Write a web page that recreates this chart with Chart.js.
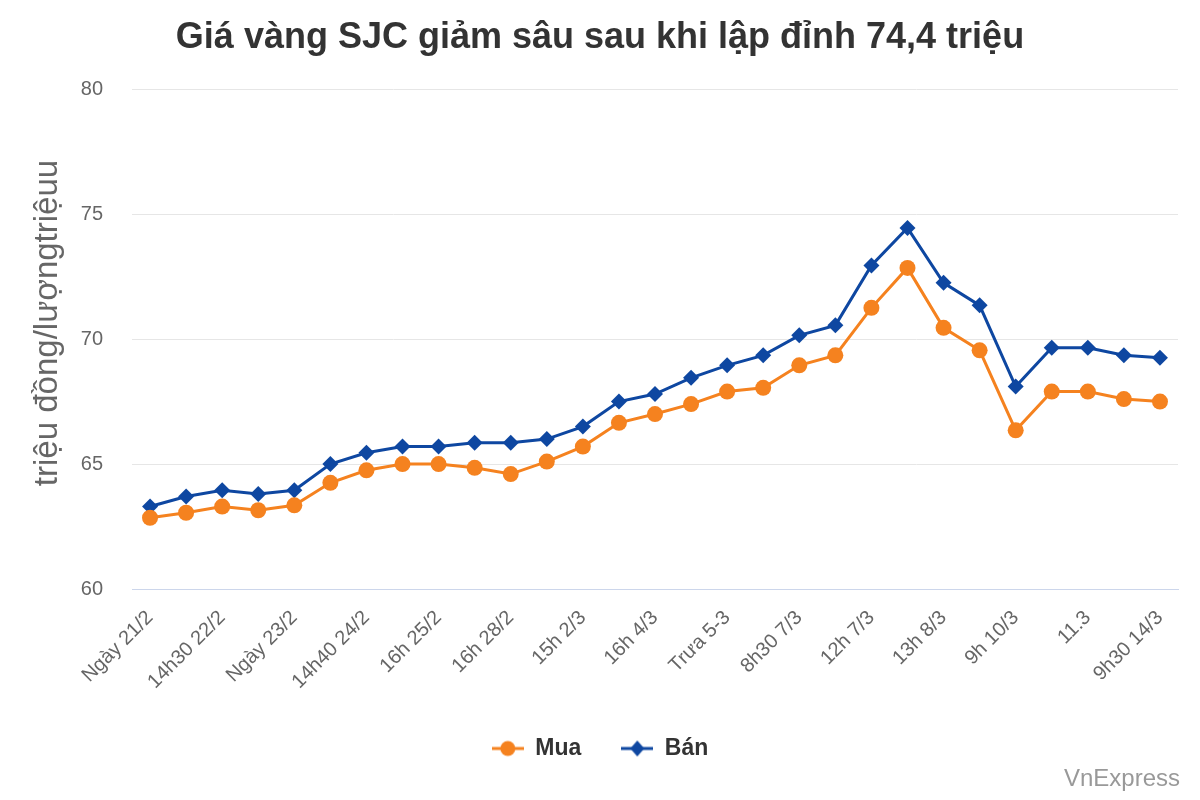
<!DOCTYPE html>
<html>
<head>
<meta charset="utf-8">
<script src="https://cdn.jsdelivr.net/npm/chart.js@4/dist/chart.umd.min.js"></script>
<style>
  html, body { margin: 0; padding: 0; background: #fff; }
  #wrap { position: relative; width: 1200px; height: 800px; }
  #credit { position: absolute; right: 20px; top: 764px; font: 24px "Liberation Sans", Arial, sans-serif; color: #999; }
</style>
</head>
<body>
<div id="wrap">
  <canvas id="c" width="1200" height="800"></canvas>
  <div id="credit">VnExpress</div>
</div>
<script>
const titleText = "Giá vàng SJC giảm sâu sau khi lập đỉnh 74,4 triệu";
const yAxisTitle = "triệu đồng/lượngtriệuu";
const categories = [
  "Ngày 21/2", "Sáng 22/2", "14h30 22/2", "Sáng 23/2", "Ngày 23/2", "Sáng 24/2",
  "14h40 24/2", "Sáng 25/2", "16h 25/2", "Sáng 28/2", "16h 28/2", "Sáng 2/3",
  "15h 2/3", "Sáng 4/3", "16h 4/3", "Sáng 5/3", "Trưa 5-3", "Sáng 7/3",
  "8h30 7/3", "10h 7/3", "12h 7/3", "Sáng 8/3", "13h 8/3", "Sáng 9/3",
  "9h 10/3", "Sáng 11/3", "11.3", "Sáng 14/3", "9h30 14/3"
];
const muaValues = [
  62.85, 63.05, 63.3, 63.15, 63.35, 64.25, 64.75, 65.0, 65.0, 64.85,
  64.6, 65.1, 65.7, 66.65, 67.0, 67.4, 67.9, 68.05, 68.95, 69.35,
  71.25, 72.85, 70.45, 69.55, 66.35, 67.9, 67.9, 67.6, 67.5
];
const banValues = [
  63.3, 63.7, 63.95, 63.8, 63.95, 65.0, 65.45, 65.7, 65.7, 65.85,
  65.85, 66.0, 66.5, 67.5, 67.8, 68.45, 68.95, 69.35, 70.15, 70.55,
  72.95, 74.45, 72.25, 71.35, 68.1, 69.65, 69.65, 69.35, 69.25
];
const yTicks = [60, 65, 70, 75, 80];

const ORANGE = "#f5821f";
const BLUE = "#0e47a1";
const FONT = "'Liberation Sans', Arial, sans-serif";

function legendIcon(color, shape) {
  const cv = document.createElement("canvas");
  cv.width = 32; cv.height = 18;
  const g = cv.getContext("2d");
  g.strokeStyle = color; g.lineWidth = 3;
  g.beginPath(); g.moveTo(0, 9); g.lineTo(32, 9); g.stroke();
  g.fillStyle = color;
  g.beginPath();
  if (shape === "circle") {
    g.arc(16, 9, 7.5, 0, Math.PI * 2);
  } else {
    g.moveTo(16, 1); g.lineTo(23, 9); g.lineTo(16, 17); g.lineTo(9, 9); g.closePath();
  }
  g.fill();
  return cv;
}
const icons = [legendIcon(ORANGE, "circle"), legendIcon(BLUE, "diamond")];

// Y-axis title drawn as rotated text, placed as in the reference
const yTitlePlugin = {
  id: "yTitle",
  afterDraw(chart) {
    const ctx = chart.ctx;
    ctx.save();
    ctx.translate(48, 323);
    ctx.rotate(-Math.PI / 2);
    ctx.font = "33px " + FONT;
    ctx.fillStyle = "#666";
    ctx.textAlign = "center";
    ctx.textBaseline = "middle";
    ctx.fillText(yAxisTitle, 0, 0);
    ctx.restore();
  }
};

new Chart(document.getElementById("c"), {
  type: "line",
  data: {
    labels: categories,
    datasets: [
      {
        label: "Mua", data: muaValues, borderColor: ORANGE, backgroundColor: ORANGE,
        borderWidth: 3, pointStyle: "circle", pointRadius: 8, pointHoverRadius: 8,
        pointBorderWidth: 0, tension: 0
      },
      {
        label: "Bán", data: banValues, borderColor: BLUE, backgroundColor: BLUE,
        borderWidth: 3, pointStyle: "rectRot", pointRadius: 8, pointHoverRadius: 8,
        pointBorderWidth: 0, tension: 0
      }
    ]
  },
  plugins: [yTitlePlugin],
  options: {
    responsive: false,
    animation: false,
    layout: { padding: { left: 22, right: 22, top: 0, bottom: 30 } },
    plugins: {
      title: {
        display: true, text: titleText, color: "#333",
        font: { family: FONT, size: 36, weight: "bold", lineHeight: 1.2 },
        padding: { top: 16, bottom: 30 }
      },
      legend: {
        position: "bottom",
        labels: {
          color: "#333",
          font: { family: FONT, size: 23, weight: "bold" },
          usePointStyle: true, pointStyleWidth: 32, padding: 40,
          generateLabels(chart) {
            const items = Chart.defaults.plugins.legend.labels.generateLabels(chart);
            items.forEach((it, i) => { it.pointStyle = icons[i]; });
            return items;
          }
        }
      },
      tooltip: { enabled: false }
    },
    scales: {
      x: {
        offset: true,
        grid: { display: false },
        border: { display: true, color: "#ccd6eb", width: 1, z: 1 },
        ticks: {
          autoSkip: false, minRotation: 45, maxRotation: 45, color: "#666",
          font: { family: FONT, size: 20 }, padding: 9,
          callback(v, i) { return i % 2 === 0 ? categories[i] : ""; }
        },
        afterFit(scale) { scale.height = 108; }
      },
      y: {
        min: 60, max: 80,
        afterBuildTicks(scale) { scale.ticks = yTicks.map(v => ({ value: v })); },
        grid: {
          color: (c) => (c.tick && c.tick.value === 60 ? "#ccd6eb" : "#e6e6e6"),
          drawTicks: false, lineWidth: 1
        },
        border: { display: false },
        ticks: { color: "#666", font: { family: FONT, size: 20 }, padding: 29 },
        title: { display: false },
        afterFit(scale) { scale.width = 110; }
      }
    }
  }
});
</script>
</body>
</html>
